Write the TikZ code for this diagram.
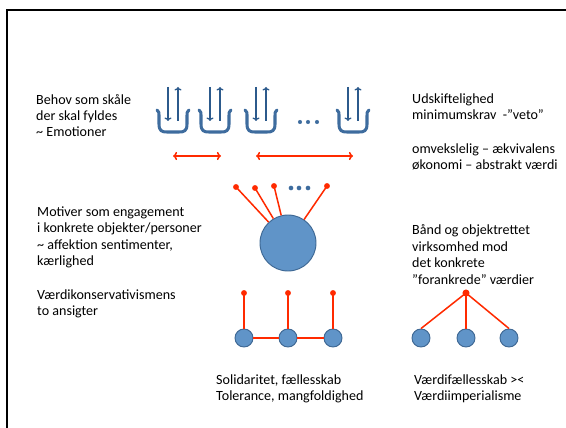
\documentclass[tikz,border=0pt]{standalone}
\usepackage{fontspec}
\setmainfont{Carlito}
\usepackage{tikz}
\usetikzlibrary{arrows.meta}

\definecolor{bowlblue}{RGB}{62,108,158}
\definecolor{arrowblue}{RGB}{44,90,140}
\definecolor{ballfill}{RGB}{96,148,200}
\definecolor{balledge}{RGB}{62,104,148}
\definecolor{tiered}{RGB}{255,42,0}

\tikzset{
  txt/.style={anchor=base west, align=left, inner sep=0pt, font=\fontsize{12}{14}\selectfont},
  ball/.style={circle, fill=ballfill, draw=balledge, line width=0.8pt, inner sep=0pt, minimum size=#1},
  tie/.style={circle, fill=tiered, inner sep=0pt, minimum size=5pt},
  dot/.style={circle, fill=bowlblue, inner sep=0pt, minimum size=3.5pt},
  redline/.style={draw=tiered, line width=1.3pt}
}

\begin{document}
\begin{tikzpicture}[x=0.03cm,y=-0.03cm]
\useasboundingbox (0,0) rectangle (566,428);
% frame
\draw[line width=2.5pt] (7,428) -- (7,10) -- (566,10);

% texts left (anchored at the last baseline)
\node[txt] (behov) at (36,137) {Behov som skåle\\der skal fyldes\\\textasciitilde{} Emotioner};
\node[txt] (motiver) at (37,265.5) {Motiver som engagement\\i konkrete objekter/personer\\\textasciitilde{} affektion sentimenter,\\kærlighed};
\node[txt] (konserv) at (37,315.5) {Værdikonservativismens\\to ansigter};
% texts right
\node[txt] (udskift) at (412,119.5) {Udskiftelighed\\minimumskrav\ \ -”veto”};
\node[txt] (omveks) at (412,169.5) {omvekslelig – ækvivalens\\økonomi – abstrakt værdi};
\node[txt] (baand) at (412,284) {Bånd og objektrettet\\virksomhed mod\\det konkrete\\”forankrede” værdier};
% texts bottom
\node[txt] (solid) at (216,400.5) {Solidaritet, fællesskab\\Tolerance, mangfoldighed};
\node[txt] (faelles) at (414,400.5) {Værdifællesskab ><\\Værdiimperialisme};

% bowls with arrows in and out
\foreach \x in {173,215,261,353} {
  \draw[bowlblue, line width=2.6pt, line cap=round]
    (\x-16,110) .. controls (\x-14,112) .. (\x-14,117) -- (\x-14,124)
    .. controls (\x-14,131) and (\x-11,132) .. (\x-6,132) -- (\x+6,132)
    .. controls (\x+11,132) and (\x+14,131) .. (\x+14,124) -- (\x+14,117)
    .. controls (\x+14,112) .. (\x+16,110);
  \draw[-{To[length=3pt,width=6pt]}, arrowblue, line width=1.1pt] (\x-5,87) -- (\x-5,121);
  \draw[-{To[length=3pt,width=6pt]}, arrowblue, line width=1.1pt] (\x+5,121) -- (\x+5,87);
}
\node[dot] (b1) at (300,122) {};
\node[dot] (b2) at (308,122) {};
\node[dot] (b3) at (317,122) {};

% exchange arrows
\coordinate (xa) at (173,156);
\coordinate (xb) at (221,156);
\coordinate (xc) at (256,156);
\coordinate (xd) at (353,156);
\draw[{To[length=3.5pt,width=7pt]}-{To[length=3.5pt,width=7pt]}, tiered, line width=1.3pt] (xa) -- (xb);
\draw[{To[length=3.5pt,width=7pt]}-{To[length=3.5pt,width=7pt]}, tiered, line width=1.3pt] (xc) -- (xd);

% motive ball with ties
\node[ball=1.68cm] (motive) at (288,243) {};
\node[tie] (t1) at (236,187) {};
\node[tie] (t2) at (255,188) {};
\node[tie] (t3) at (274,186) {};
\node[tie] (t4) at (327,186) {};
\foreach \t in {t1,t2,t3,t4}
  \draw[redline] (\t.center) -- (motive);
\node[dot, minimum size=4pt] (m1) at (291,188) {};
\node[dot, minimum size=4pt] (m2) at (299,188) {};
\node[dot, minimum size=4pt] (m3) at (308,188) {};

% solidarity: chained balls
\node[ball=0.54cm] (s1) at (244,338) {};
\node[ball=0.54cm] (s2) at (288,338) {};
\node[ball=0.54cm] (s3) at (333,338) {};
\node[tie] (sa) at (244,293) {};
\node[tie] (sb) at (288,293) {};
\node[tie] (sc) at (333,293) {};
\draw[redline] (sa.center) -- (s1);
\draw[redline] (sb.center) -- (s2);
\draw[redline] (sc.center) -- (s3);
\draw[redline] (s1) -- (s2);
\draw[redline] (s2) -- (s3);

% community: one tie for all
\node[ball=0.54cm] (c1) at (421,338) {};
\node[ball=0.54cm] (c2) at (466,338) {};
\node[ball=0.54cm] (c3) at (509,338) {};
\node[tie, minimum size=6pt] (ct) at (466,293) {};
\draw[redline] (ct.center) -- (c1.north);
\draw[redline] (ct.center) -- (c2);
\draw[redline] (ct.center) -- (c3.north);
\end{tikzpicture}
\end{document}
